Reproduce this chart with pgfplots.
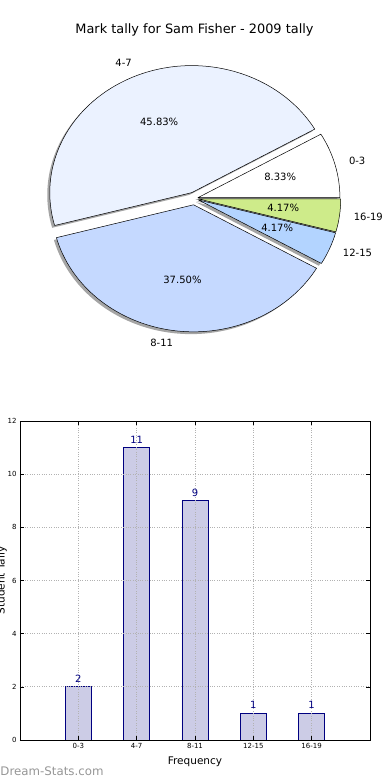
\documentclass[border=0pt]{standalone}
\usepackage{pgfplots}
\pgfplotsset{compat=1.18}
\usepackage{fontspec}
\setmainfont{DejaVu Sans}
\definecolor{cA}{RGB}{255,255,255}
\definecolor{cB}{RGB}{235,242,255}
\definecolor{cC}{RGB}{197,217,255}
\definecolor{cD}{RGB}{179,212,255}
\definecolor{cE}{RGB}{206,235,138}
\definecolor{barfill}{RGB}{204,204,230}
\definecolor{navyc}{RGB}{0,0,128}
\definecolor{wm}{RGB}{150,150,150}

% #1 start angle, #2 end angle, #3 explode
\newcommand{\pieshadow}[3]{%
  \fill[black!70,opacity=0.5,shift={(-2.5pt,-2.3pt)}]
    (axis cs:{#3*cos((#1+#2)/2)},{#3*sin((#1+#2)/2)}) --
    (axis cs:{#3*cos((#1+#2)/2)+cos(#1)},{#3*sin((#1+#2)/2)+sin(#1)})
    arc[start angle=#1,end angle=#2,x radius=142pt,y radius=127pt] -- cycle;}
% #1 start, #2 end, #3 explode, #4 colour, #5 label, #6 pct, #7 anchor
\newcommand{\piewedge}[7]{%
  \filldraw[fill=#4,draw=black,line width=0.5pt,line join=round]
    (axis cs:{#3*cos((#1+#2)/2)},{#3*sin((#1+#2)/2)}) --
    (axis cs:{#3*cos((#1+#2)/2)+cos(#1)},{#3*sin((#1+#2)/2)+sin(#1)})
    arc[start angle=#1,end angle=#2,x radius=142pt,y radius=127pt] -- cycle;
  \node[anchor=#7,inner sep=0pt,font=\fontsize{10}{12}\selectfont,yshift=0.8pt]
    at (axis cs:{(#3+1.1)*cos((#1+#2)/2)},{(#3+1.1)*sin((#1+#2)/2)}) {#5};
  \node[inner sep=0pt,font=\fontsize{10}{12}\selectfont,yshift=0.8pt]
    at (axis cs:{(#3+0.6)*cos((#1+#2)/2)},{(#3+0.6)*sin((#1+#2)/2)}) {#6};}

\begin{document}
\begin{tikzpicture}
% counts: 2, 11, 9, 1, 1 (total 24) -> angles
\pgfmathsetmacro\aA{0}
\pgfmathsetmacro\aB{\aA+360*2/24}
\pgfmathsetmacro\aC{\aB+360*11/24}
\pgfmathsetmacro\aD{\aC+360*9/24}
\pgfmathsetmacro\aE{\aD+360*1/24}
\pgfmathsetmacro\aF{\aE+360*1/24}

\node[anchor=base,font=\fontsize{12.9}{15}\selectfont] at (194.5pt,746pt) {Mark tally for Sam Fisher - 2009 tally};

\begin{axis}[
  anchor=origin, at={(194.5pt,581.5pt)},
  x=142pt, y=127pt,
  xmin=-1.4, xmax=1.4, ymin=-1.2, ymax=1.2,
  hide axis, clip=false]
  \pieshadow{\aA}{\aB}{0.025}
  \pieshadow{\aB}{\aC}{0.05}
  \pieshadow{\aC}{\aD}{0.05}
  \pieshadow{\aD}{\aE}{0.03}
  \pieshadow{\aE}{\aF}{0.03}
  \piewedge{\aA}{\aB}{0.025}{cA}{0-3}{8.33\%}{west}
  \piewedge{\aB}{\aC}{0.05}{cB}{4-7}{45.83\%}{east}
  \piewedge{\aC}{\aD}{0.05}{cC}{8-11}{37.50\%}{east}
  \piewedge{\aD}{\aE}{0.03}{cD}{12-15}{4.17\%}{west}
  \piewedge{\aE}{\aF}{0.03}{cE}{16-19}{4.17\%}{west}
\end{axis}

\begin{axis}[
  at={(20pt,40pt)}, anchor=south west,
  scale only axis, width=350pt, height=319pt,
  xmin=-1, xmax=5, ymin=0, ymax=12,
  xtick={0,1,2,3,4}, xticklabels={0-3,4-7,8-11,12-15,16-19},
  ytick={0,2,4,6,8,10,12},
  grid=major,
  grid style={dotted, gray!60, line width=0.7pt},
  axis on top,
  tick align=inside, major tick length=4pt,
  xtick pos=both, ytick pos=both,
  tick style={black, line width=0.5pt},
  axis line style={black, line width=0.8pt},
  /pgf/number format/assume math mode=true,
  ticklabel style={font=\fontsize{7}{8}\selectfont},
  xlabel={Frequency},
  ylabel={Student Tally},
  label style={font=\fontsize{10.5}{12}\selectfont},
  xlabel style={at={(axis description cs:0.5,0)}, anchor=base, yshift=-24pt},
  ylabel style={at={(axis description cs:-0.044,0.5)}, anchor=base},
]
\addplot[ybar, bar width=0.45, fill=barfill, draw=navyc, line width=0.7pt,
  nodes near coords,
  every node near coord/.append style={anchor=base, inner sep=0pt, yshift=4.5pt,
    text=navyc, font=\fontsize{10}{12}\selectfont,
    /pgf/number format/assume math mode=true}]
  coordinates {(0,2) (1,11) (2,9) (3,1) (4,1)};
\end{axis}

\node[anchor=west,inner sep=0pt,text=wm,font=\fontsize{11.8}{14}\selectfont] at (0.3pt,9pt) {Dream-Stats.com};

\pgfresetboundingbox
\path[use as bounding box] (0,0) rectangle (390pt,780pt);
\end{tikzpicture}
\end{document}
